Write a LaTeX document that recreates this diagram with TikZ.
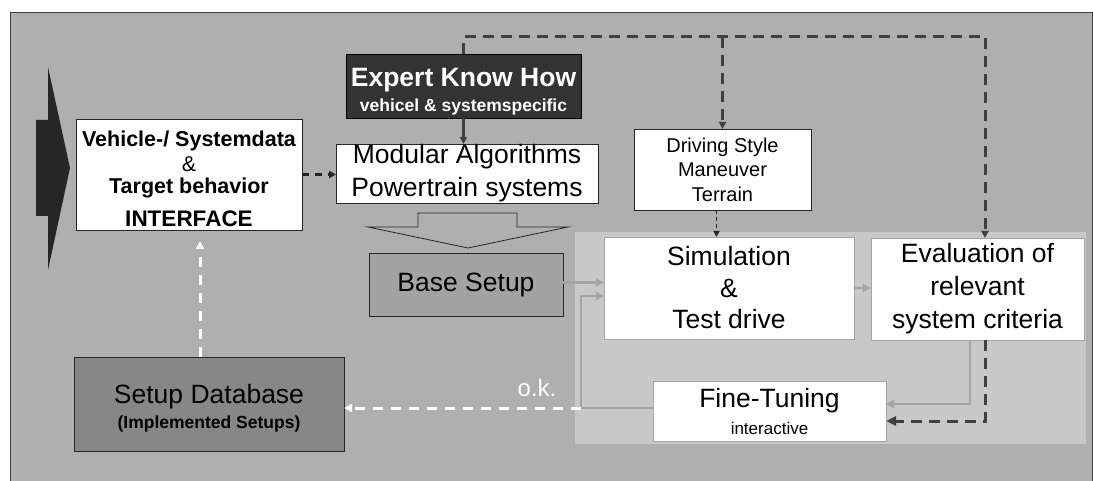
\documentclass[tikz,border=0pt]{standalone}
\usepackage{fontspec}
\setmainfont{Liberation Sans}
\usetikzlibrary{arrows.meta,calc}
\definecolor{bggray}{HTML}{AFAFAF}
\definecolor{panelgray}{HTML}{C8C8C8}
\definecolor{basegray}{HTML}{A3A3A3}
\definecolor{dbgray}{HTML}{878787}
\definecolor{expertgray}{HTML}{333333}
\definecolor{lightline}{HTML}{A4A4A4}
\definecolor{darkline}{HTML}{404040}
\definecolor{arrowblack}{HTML}{262626}
\newcommand\setfs[1]{\fontsize{#1}{#1}\selectfont}
\newcommand\topstrut[1]{\rule{0pt}{#1}}
\begin{document}
\begin{tikzpicture}[x=1pt,y=-1pt,
  box/.style={draw=black!85, line width=0.8pt, fill=white, inner sep=0pt, outer sep=0pt, align=center},
  greybox/.style={box, draw=lightline},
  darktip/.style={-{Triangle[length=7pt,width=7pt]}},
  topdash/.style={draw=darkline, line width=3pt, dash pattern=on 11pt off 7pt, darktip},
  blackdash/.style={draw=arrowblack, line width=2.8pt, dash pattern=on 7pt off 6pt, -{Triangle[length=7pt,width=7pt]}},
  smalldash/.style={draw=arrowblack, line width=1.8pt, dash pattern=on 4pt off 3pt, -{Triangle[length=6pt,width=6pt]}},
  greyarrow/.style={draw=lightline, line width=2.6pt, -{Triangle[length=8pt,width=8pt]}},
  whitedash/.style={draw=white, line width=3pt, dash pattern=on 10pt off 8pt, -{Triangle[length=8pt,width=8pt]}}
]
\useasboundingbox (0,0) rectangle (1093,481);
\fill[white] (0,0) rectangle (1093,481);
\draw[fill=bggray, draw=darkline, line width=1pt] (10,13) rectangle (1092,500);
\fill[panelgray] (575,232) rectangle (1086,444);

% big black arrow
\fill[arrowblack] (36,120) -- (48,120) -- (48,67) -- (70,168) -- (48,270) -- (48,216) -- (36,216) -- cycle;

% hollow block arrow
\draw[fill=bggray, draw=black!85, line width=0.8pt] (418,213) -- (517,213) -- (517,227) -- (568,227) -- (468,248) -- (368,227) -- (418,227) -- cycle;

% nodes
\node[box, minimum width=226pt, minimum height=111pt, font=\bfseries\fontsize{21.5}{22}\selectfont] (Vehicle) at (189,174.5)
  {\topstrut{24pt}Vehicle-/ Systemdata\\[3pt]{\mdseries\&}\\Target behavior\\[11pt]{\setfs{22.5}INTERFACE}};
\node[box, fill=expertgray, draw=black, text=white, minimum width=235pt, minimum height=64pt, font=\bfseries\fontsize{26.5}{27}\selectfont] (Expert) at (463.5,86)
  {\topstrut{29pt}Expert Know How\\[-2pt]{\setfs{17.5}vehicel \& systemspecific}};
\node[box, minimum width=262pt, minimum height=59pt, font=\fontsize{26.5}{33}\selectfont] (Modular) at (467,173.5)
  {Modular Algorithms\\Powertrain systems};
\node[box, minimum width=177pt, minimum height=81pt, font=\fontsize{20}{24.5}\selectfont] (Driving) at (722.5,169.5)
  {Driving Style\\Maneuver\\Terrain};
\node[box, fill=basegray, minimum width=194pt, minimum height=63pt, font=\setfs{26.5}] (Base) at (466,284.5)
  {Base Setup};
\node[greybox, minimum width=250pt, minimum height=102pt, font=\fontsize{26.5}{31.5}\selectfont] (Simulation) at (729,288)
  {Simulation\\\&\\Test drive};
\node[greybox, minimum width=213pt, minimum height=102pt, font=\fontsize{26.5}{33}\selectfont] (Evaluation) at (977.5,289)
  {Evaluation of\\relevant\\system criteria};
\node[greybox, minimum width=233pt, minimum height=60pt, font=\fontsize{26.5}{26}\selectfont] (FineTuning) at (769.5,411)
  {Fine-Tuning\\[1pt]{\setfs{17}interactive}};
\node[box, fill=dbgray, minimum width=270pt, minimum height=94pt, font=\fontsize{26.5}{27}\selectfont] (Database) at (209,404)
  {\topstrut{28pt}Setup Database\\[-2pt]{\bfseries\setfs{17.5}(Implemented Setups)}};
\node[text=white, font=\setfs{24}, inner sep=0pt] (ok) at (537,388) {o.k.};

% connectors
\draw[topdash] (Expert.north) -- ++(0,-17) coordinate (tl) -| ([xshift=7.5pt]Evaluation.north);
\draw[topdash] (Driving.north |- tl) -- (Driving.north);
\draw[draw=darkline, line width=2.2pt, darktip] (Expert.south) -- (Expert.south |- Modular.north);
\draw[blackdash] (Vehicle.east) -- (Vehicle.east -| Modular.west);
\draw[smalldash] ([xshift=-6pt]Driving.south) -- ([xshift=-6pt]Driving.south |- Simulation.north);
\draw[greyarrow] ([yshift=2pt]Base.east) -- ([yshift=2pt]Base.east -| Simulation.west);
\coordinate (ftc) at (581,408);
\draw[greyarrow] ([yshift=3pt]FineTuning.west) -- (ftc) |- ([yshift=-8pt]Simulation.west);
\draw[greyarrow] (Simulation.east) -- (Simulation.east -| Evaluation.west);
\draw[greyarrow] ([xshift=-7.5pt]Evaluation.south) |- ([yshift=7pt]FineTuning.east);
\draw[topdash, -{Triangle[length=10pt,width=9pt]}] ([xshift=7.5pt]Evaluation.south) |- ([yshift=-10pt]FineTuning.east);
\draw[whitedash] (ftc) -- (ftc -| Database.east);
\draw[whitedash] ([xshift=-9pt]Database.north) -- ([xshift=-9pt,yshift=-11pt]Database.north |- Vehicle.south);
\end{tikzpicture}
\end{document}
